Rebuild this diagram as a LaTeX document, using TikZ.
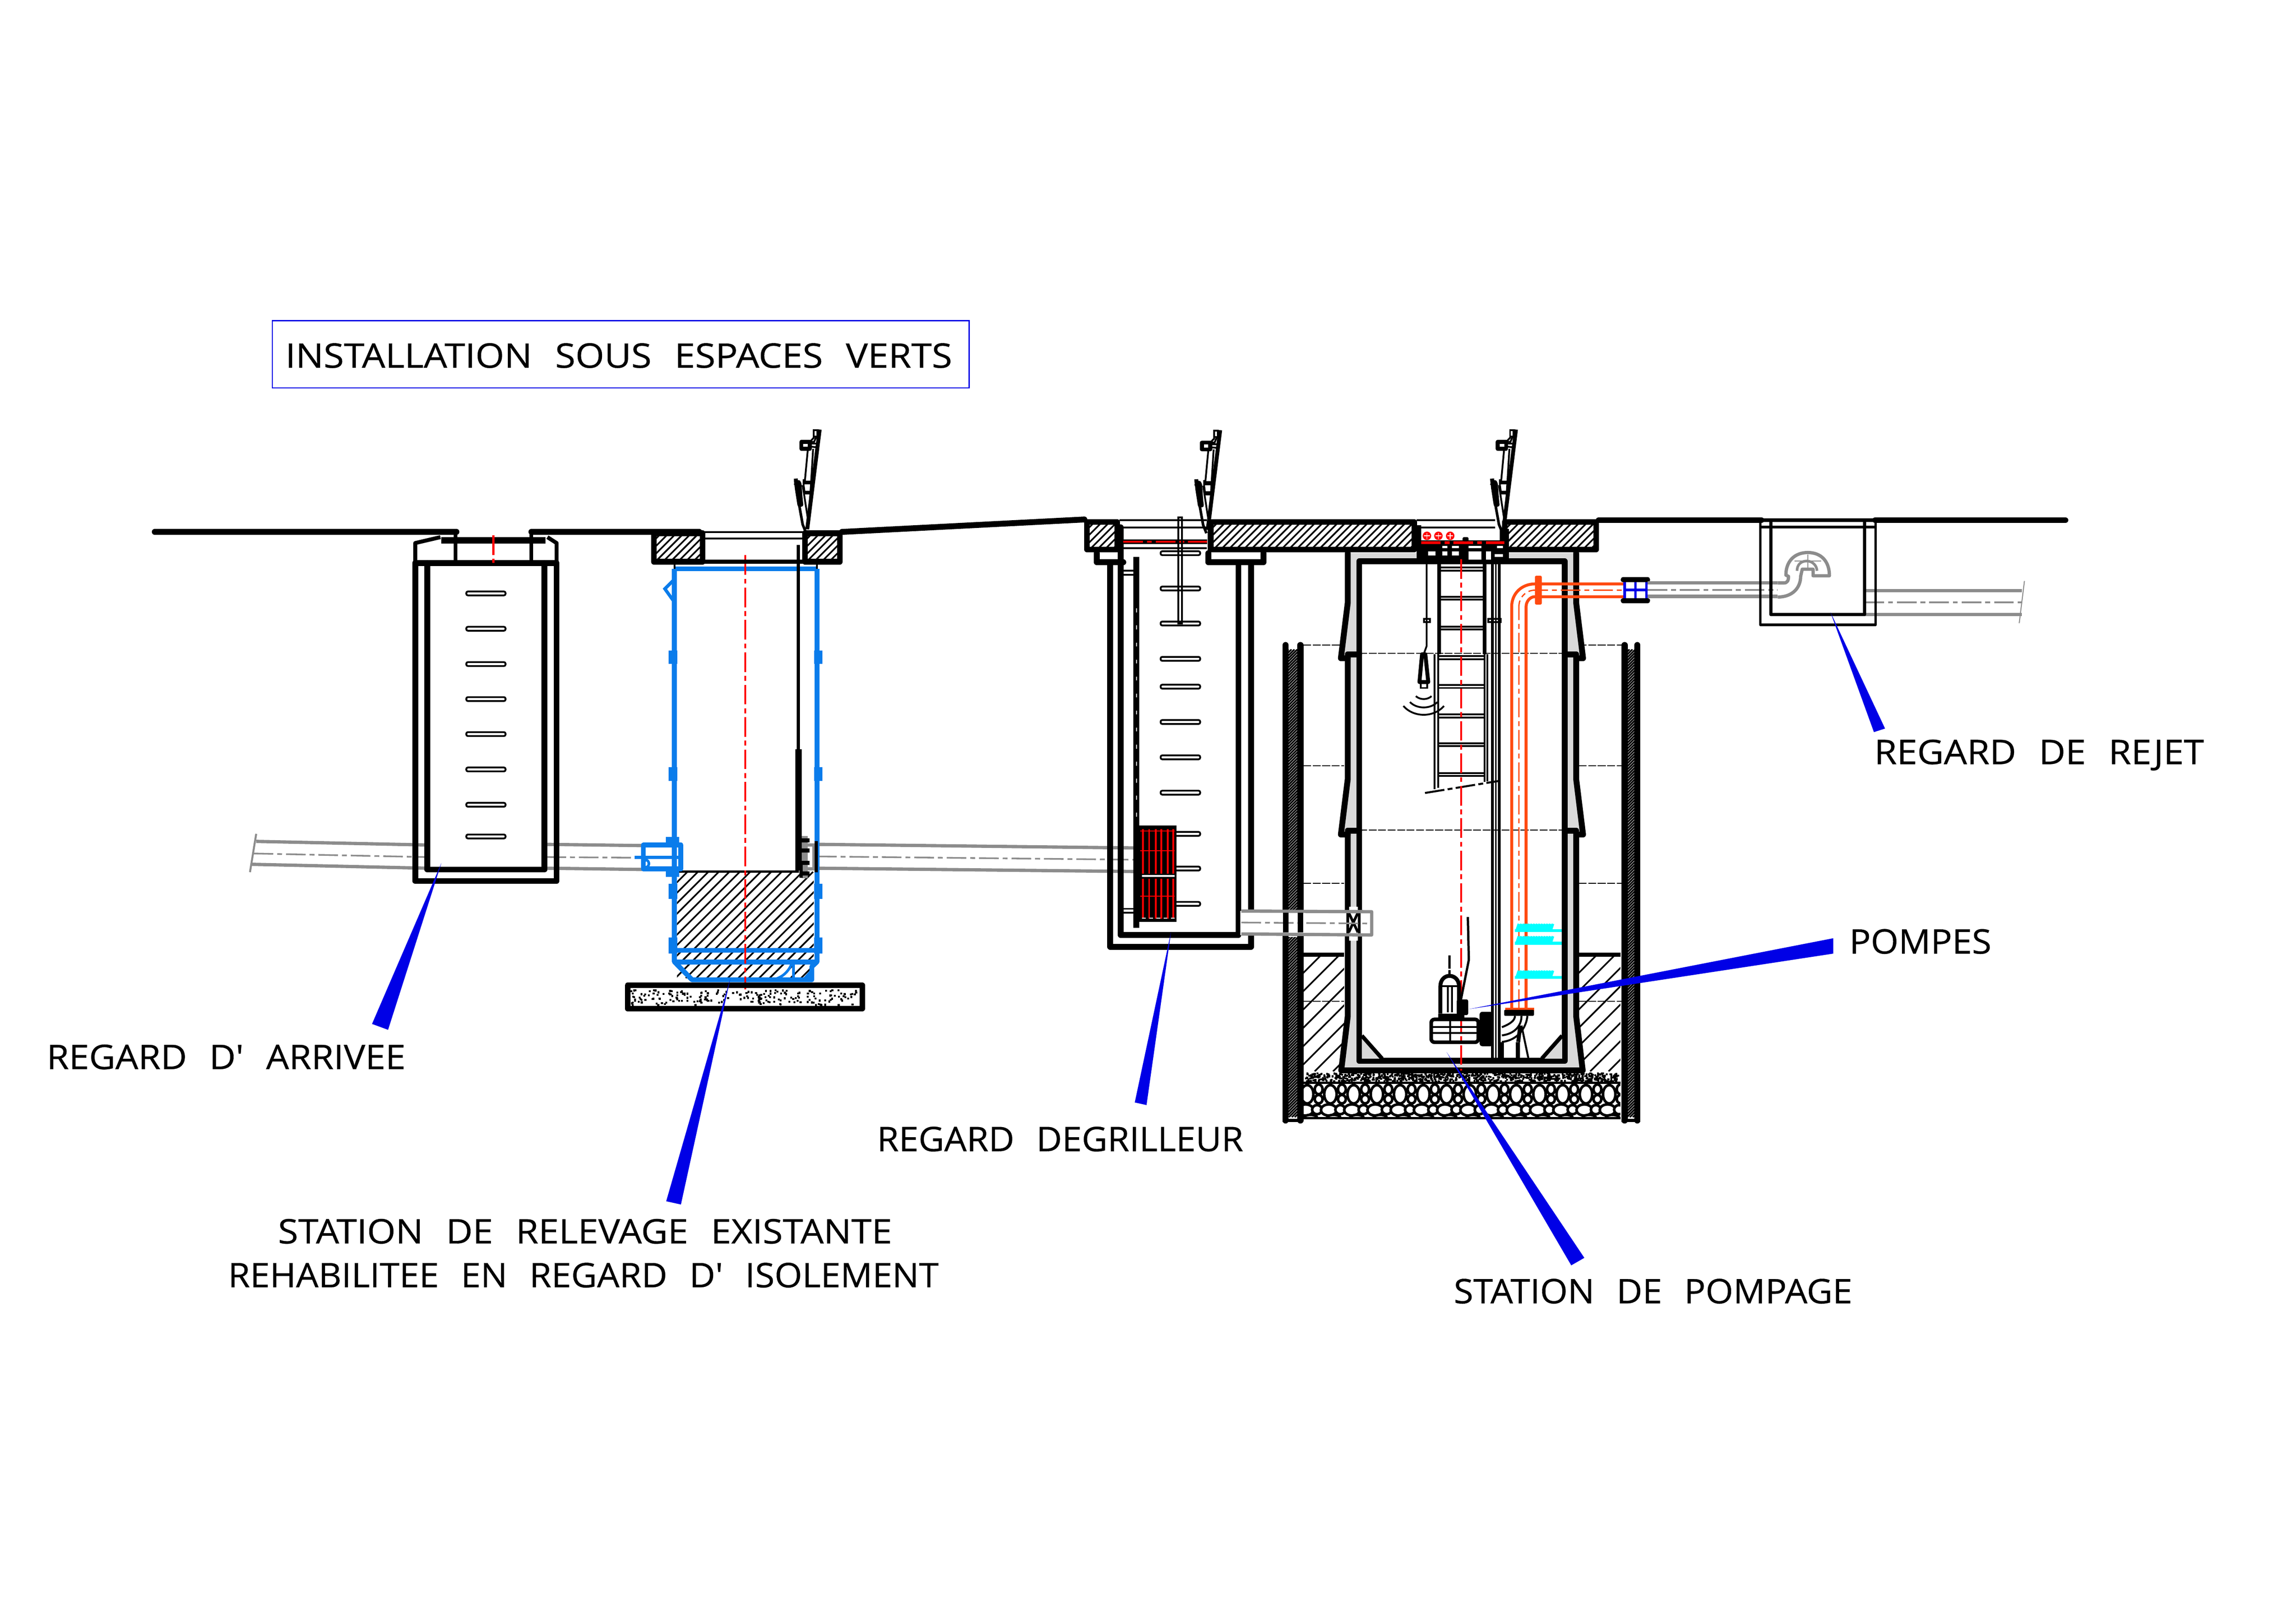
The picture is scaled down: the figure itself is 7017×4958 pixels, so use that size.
\documentclass[tikz,border=0pt]{standalone}
\usepackage{graphicx}
\usepackage{fontspec}
\setmainfont{Open Sans}
\newfontfamily\cadfont{Open Sans}[FakeBold=0.5]
\definecolor{tankblue}{RGB}{10,124,235}
\definecolor{leaderblue}{RGB}{0,0,230}
\definecolor{pipegray}{RGB}{140,140,140}
\definecolor{wallgray}{RGB}{217,217,217}
\definecolor{risingorange}{RGB}{255,74,16}
\definecolor{levelcyan}{RGB}{0,255,255}
\tikzset{
  heavy/.style={draw=black,line width=1.8mm,line join=round,line cap=round},
  medium/.style={draw=black,line width=1.2mm,line join=round},
  fine/.style={draw=black,line width=0.55mm},
  hatchline/.style={draw=black,line width=0.5mm},
  thindash/.style={draw=black,line width=0.35mm,dash pattern=on 2.4mm off 0.5mm},
  pipeline/.style={draw=pipegray,line width=1mm},
  axisdash/.style={dash pattern=on 6mm off 1.2mm on 1.5mm off 1.2mm},
  axisred/.style={draw=red,line width=0.6mm,axisdash},
  axisgray/.style={draw=pipegray,line width=0.5mm,axisdash},
  tankline/.style={draw=tankblue,line width=1.5mm,line join=round},
  riser/.style={draw=risingorange,line width=0.9mm},
  leader/.style={fill=leaderblue},
  cadlabel/.style={inner sep=0pt,outer sep=0pt},
}
\newcommand{\cadtext}[2]{\resizebox{#1cm}{0.75cm}{\cadfont\spaceskip=0.62em\relax #2}}
% hatching: x1,y1,x2,y2,spacing
\newcommand{\hatchbox}[5]{%
  \begin{scope}
    \clip (#1,#2) rectangle (#3,#4);
    \pgfmathsetmacro{\hatchh}{#4-#2}
    \pgfmathtruncatemacro{\hatchn}{(#3-#1+\hatchh)/#5+1}
    \foreach \k in {0,...,\hatchn}
      \draw[hatchline] ({#1-\hatchh+\k*#5},#4) -- ({#1+\k*#5},#2);
  \end{scope}}
\newcommand{\speckle}[5]{%
  \foreach \k in {1,...,#5}{
    \pgfmathsetmacro{\spx}{#1+rnd*(#3-#1)}
    \pgfmathsetmacro{\spy}{#2+rnd*(#4-#2)}
    \fill[black] (\spx,\spy) rectangle ++(6,6);
  }}
\newcommand{\slab}[4]{%
  \hatchbox{#1}{#2}{#3}{#4}{23}
  \draw[draw=black,line width=1.7mm,line join=round] (#1,#2) rectangle (#3,#4);}
% open cover, from its top end
\newcommand{\lid}[2]{%
  \begin{scope}[shift={(#1,#2)}]
    \draw[black,line width=1.2mm] (0,0) -- (-38,305);
    \draw[fine] (-18,2) rectangle (-7,21);
    \draw[fine] (-10,21) -- (-17,38) -- (-30,38) -- (-17,24);
    \draw[medium] (-56,38) rectangle (-30,59);
    \draw[fine] (-30,43) -- (-11,43) (-30,52) -- (-12,54);
    \draw[fine] (-36,59) -- (-45,155) -- (-49,155) -- (-49,170);
    \draw[fine] (-20,59) -- (-33,274);
    \draw[medium] (-49,162) -- (-24,162) (-46,193) -- (-25,193);
    \draw[fine] (-49,170) -- (-46,193);
    \draw[medium] (-73,150) .. controls (-72,168) and (-66,205) .. (-62,230) -- (-56,230) .. controls (-60,200) and (-60,170) .. (-62,165) .. controls (-63,157) and (-72,160) .. (-73,170);
    \draw[draw=black,line width=0.8mm] (-72,178) -- (-52,290) -- (-42,315);
    \draw[fine] (-52,170) -- (-35,280);
  \end{scope}}
\begin{document}
\begin{tikzpicture}[x=0.01cm,y=-0.01cm]
\useasboundingbox (0,0) rectangle (7017,4958);
\pgfmathsetseed{11}

% ground
\draw[heavy] (473,1626) -- (1395,1626);
\draw[heavy] (1624,1626) -- (2137,1626);
\draw[heavy] (2573,1626) -- (3314,1588);
\draw[heavy] (4886,1590) -- (5383,1590);
\draw[heavy] (5731,1590) -- (6312,1590);

% gravity pipes
\draw[pipeline] (783,2572) -- (1306,2583);
\draw[pipeline] (767,2642) -- (1306,2654);
\draw[axisgray] (775,2609) -- (1306,2620);
\draw[draw=pipegray,line width=0.6mm] (783,2549) -- (764,2666);
\draw[pipeline] (1663,2581) -- (1977,2585);
\draw[pipeline] (1670,2654) -- (1977,2658);
\draw[axisgray] (1670,2620) -- (1960,2622);
\draw[pipeline] (2497,2581) -- (3466,2592);
\draw[pipeline] (2497,2654) -- (3466,2664);
\draw[axisgray] (2497,2618) -- (3466,2628);

% regard d'arrivee
\begin{scope}
  \draw[heavy] (1269,1721) rectangle (1701,2693);
  \draw[heavy] (1306,1721) -- (1306,2658) -- (1664,2658) -- (1664,1721);
  \draw[medium] (1269,1721) -- (1269,1660) -- (1346,1642);
  \draw[medium] (1701,1721) -- (1701,1660) -- (1673,1642);
  \draw[draw=black,line width=2mm] (1349,1652) -- (1667,1652);
  \draw[medium] (1392,1624) -- (1392,1721) (1624,1624) -- (1624,1721);
  \draw[axisred] (1508,1636) -- (1508,1721);
  \foreach \y in {1814,1922,2030,2137,2244,2352,2460,2557}
    \draw[fine,rounded corners=0.05cm] (1425,\y-6) rectangle (1545,\y+6);
\end{scope}

% regard d'isolement
\begin{scope}
  \hatchbox{2069}{2665}{2487}{2990}{32}
  \draw[draw=black,line width=0.7mm] (2069,2665) -- (2442,2665);
  \draw[tankline] (2061,1739) -- (2497,1739);
  \draw[tankline] (2061,1739) -- (2061,2940) -- (2115,2995) -- (2481,2995) -- (2481,2955) -- (2497,2940) -- (2497,1739);
  \draw[tankline] (2061,2905) -- (2497,2905) (2061,2941) -- (2497,2941);
  \draw[draw=tankblue,line width=0.8mm] (2360,2995) .. controls (2390,2990) and (2410,2970) .. (2420,2945);
  \draw[draw=tankblue,line width=0.8mm] (2425,2945) -- (2425,2995);
  \fill[tankblue] (2481,2960) -- (2481,2995) -- (2450,2995) -- cycle;
  \foreach \y/\z in {1988/2030,2345/2387,2701/2748,2866/2915}
    \draw[draw=tankblue,line width=2.6mm] (2057,\y) -- (2057,\z) (2501,\y) -- (2501,\z);
  \draw[draw=tankblue,line width=1mm] (2057,1775) -- (2032,1800) -- (2057,1835);
  % inlet sleeve
  \draw[tankline] (1966,2583) rectangle (2081,2656);
  \draw[draw=tankblue,line width=1mm] (1940,2621) -- (2084,2621);
  \draw[draw=tankblue,line width=0.8mm] (1972,2630) .. controls (1962,2640) and (1968,2656) .. (1978,2650) .. controls (1990,2640) and (1978,2625) .. (1972,2630);
  \draw[draw=tankblue,line width=2.6mm] (2035,2572) -- (2075,2572) (2035,2668) -- (2075,2668);
  \draw[axisred] (2278,1697) -- (2278,3024);
  % base slab
  \speckle{1927}{3024}{2620}{3070}{210}
  \draw[draw=black,line width=1.7mm,line join=round] (1918,3012) rectangle (2635,3083);
  % upper slabs
  \slab{1998}{1630}{2147}{1717}
  \slab{2460}{1630}{2567}{1717}
  \draw[fine] (2147,1626) -- (2454,1626) (2147,1646) -- (2454,1646);
  \draw[medium] (2147,1717) -- (2454,1717);
  \draw[fine] (2061,1717) -- (2061,1739) (2497,1717) -- (2497,1739);
  % guide rail and its bracket
  \draw[draw=black,line width=0.9mm] (2440,1666) -- (2440,2290);
  \draw[draw=black,line width=2mm] (2440,2290) -- (2440,2661);
  \fill[pipegray] (2451,2556) rectangle (2468,2685);
  \draw[draw=pipegray,line width=1mm] (2462,2583) -- (2488,2583) -- (2488,2656) -- (2462,2656);
  \draw[draw=black,line width=1mm] (2448,2640) -- (2448,2683);
  \foreach \y in {2569,2600,2638,2670}
    \draw[draw=black,line width=1.3mm] (2451,\y) -- (2474,\y);
  \draw[draw=black,line width=1mm] (2494,2571) -- (2494,2667);
\end{scope}

% regard degrilleur
\begin{scope}
  \slab{3322}{1596}{3414}{1680}
  \slab{3700}{1596}{4322}{1680}
  \draw[heavy] (3352,1691) -- (3352,1719) -- (3433,1719);
  \draw[heavy] (3693,1691) -- (3693,1719) -- (3861,1719) -- (3861,1691);
  \draw[heavy] (3393,1719) -- (3393,2894) -- (3823,2894) -- (3823,1719);
  \draw[heavy] (3425,1612) -- (3425,2858) -- (3785,2858) -- (3785,1719);
  \draw[fine] (3422,1590) -- (3688,1590) (3422,1612) -- (3688,1612) (3425,1676) -- (3688,1676);
  \draw[draw=black,line width=1.3mm] (3433,1656) -- (3690,1656);
  \draw[axisred,line width=0.7mm] (3433,1656) -- (3690,1656);
  \foreach \y in {1691,1799,1906,2014,2099,2207,2315,2423,2549,2655,2763}
    \draw[fine,rounded corners=0.05cm] (3547,\y-6) rectangle (3668,\y+6);
  \draw[fine] (3601,1582) rectangle (3612,1906);
  \draw[fine] (3428,1745) -- (3468,1745) (3428,1757) -- (3468,1757);
  \draw[fine] (3428,2778) -- (3468,2778) (3428,2790) -- (3468,2790);
  \draw[draw=black,line width=1.8mm] (3473,1703) -- (3473,2836);
  \draw[draw=white,line width=0.3mm,dash pattern=on 1.2mm off 4mm] (3473,1860) -- (3473,2500);
  % screen
  \fill[black] (3476,2523) rectangle (3596,2818);
  \foreach \x in {3493,3512,3532,3549,3569,3586}
    \draw[draw=red,line width=0.5mm] (\x,2535) -- (\x,2670) (\x,2686) -- (\x,2808);
  \draw[draw=white,line width=0.5mm] (3490,2678) -- (3590,2678);
  \draw[draw=white,line width=0.3mm,dash pattern=on 1.2mm off 1mm] (3490,2807) -- (3590,2807);
  \draw[draw=red,line width=0.3mm] (3485,2540) -- (3590,2540) (3485,2600) -- (3590,2600) (3485,2740) -- (3590,2740);
\end{scope}

% station de pompage: fill, trench walls and their hatching
\begin{scope}
  \hatchbox{3983}{2918}{4108}{3275}{56}
  \hatchbox{4825}{2918}{4952}{3275}{56}
  \draw[medium] (3983,2918) -- (4108,2918) (4825,2918) -- (4952,2918);
  \speckle{3983}{3278}{4945}{3303}{850}
  \begin{scope}
    \clip (3983,3310) rectangle (4952,3418);
    \foreach \i in {0,...,13}{
      \draw[draw=black,fill=white,line width=0.8mm] (3995+\i*71,3345) ellipse (19 and 28);
      \draw[draw=black,fill=white,line width=0.8mm] (4030+\i*71,3330) ellipse (12 and 15);
      \draw[draw=black,fill=white,line width=0.8mm] (4030+\i*71,3360) ellipse (12 and 13);
      \draw[draw=black,fill=white,line width=0.8mm] (3990+\i*71,3393) ellipse (24 and 17);
      \draw[draw=black,fill=white,line width=0.8mm] (4025+\i*71,3392) ellipse (15 and 14);
      \draw[draw=black,fill=white,line width=0.8mm] (4005+\i*71,3416) ellipse (20 and 8);
    }
  \end{scope}
  \draw[draw=black,line width=0.7mm] (3983,3310) -- (4952,3310);
  \draw[draw=black,line width=0.7mm] (3983,3418) -- (4952,3418);
  \foreach \xa/\xb in {3938/3965,4971/4998}{
    \hatchbox{\xa}{1985}{\xb}{3415}{9}
  }
  \fill[white] (3938,2784) rectangle (3965,2864);
  \foreach \xa in {3929,3974,4965,5004}
    \draw[draw=black,line width=1.9mm,line cap=round] (\xa,1972) -- (\xa,3425);
  \draw[draw=black,line width=1mm] (3920,3425) -- (3983,3425) (4956,3425) -- (5013,3425);
  \foreach \y in {1972,2341,2700,3061}{
    \draw[thindash] (3983,\y) -- (4108,\y);
    \draw[thindash] (4825,\y) -- (4956,\y);
  }
\end{scope}

% station de pompage: shaft, left side then its mirror
\foreach \sx/\sc in {0/1,8936/-1}{
  \begin{scope}[shift={(\sx,0)},xscale=\sc]
    \fill[wallgray] (4119,1691) -- (4119,1842) -- (4098,2012) -- (4119,2012) -- (4119,2381) -- (4098,2551) -- (4119,2551) -- (4119,3106) -- (4099,3272) -- (4468,3272) -- (4468,3243) -- (4154,3243) -- (4154,1707) -- (4330,1707) -- (4330,1691) -- cycle;
    \draw[heavy] (4119,1691) -- (4119,1842) -- (4098,2012) -- (4119,2012);
    \draw[heavy] (4119,2012) -- (4119,2381) -- (4098,2551) -- (4119,2551);
    \draw[heavy] (4119,2551) -- (4119,3106) -- (4099,3272) -- (4468,3272);
    \draw[heavy] (4119,2000) -- (4154,2000) (4119,2539) -- (4154,2539);
    \draw[draw=black,line width=1.8mm,line join=round] (4329,1716) -- (4154,1716) -- (4154,3243) -- (4468,3243);
    \fill[wallgray] (4162,3166) -- (4224,3236) -- (4162,3236) -- cycle;
    \draw[medium] (4162,3166) -- (4224,3236);
  \end{scope}
}
\draw[thindash] (4154,1997) -- (4782,1997);
\draw[thindash] (4154,2537) -- (4782,2537);

% pipe through the shaft wall
\fill[white] (3790,2785) rectangle (4190,2858);
\fill[white] (4120,2772) rectangle (4150,2876);
\draw[draw=black,line width=0.8mm] (4119,2772) -- (4119,2876) (4154,2772) -- (4154,2876);
\draw[draw=black,line width=0.8mm] (4122,2790) -- (4150,2850) (4150,2790) -- (4122,2850);
\draw[draw=pipegray,line width=1mm,line join=round] (3794,2785) -- (4192,2787) -- (4192,2858) -- (3794,2855);
\draw[axisgray] (3794,2820) -- (4190,2823);
\draw[draw=black,line width=1.7mm] (3929,2790) -- (3929,2850) (3974,2790) -- (3974,2850);

% cover frame between the two slabs
\slab{4599}{1596}{4878}{1680}
\draw[fine] (4329,1590) -- (4570,1590) (4329,1612) -- (4570,1612);
\fill[black] (4329,1652) rectangle (4611,1725);
\fill[black] (4324,1606) rectangle (4343,1652);
\fill[black] (4584,1617) rectangle (4611,1652);
\foreach \xa/\ya/\xb/\yb in {4365/1685/4387/1698,4408/1685/4423/1698,4437/1685/4459/1698,4408/1669/4423/1675,4437/1669/4459/1675,4488/1669/4528/1675,4488/1685/4528/1711,4541/1685/4557/1711,4575/1669/4593/1675,4568/1694/4593/1703}
  \fill[white] (\xa,\ya) rectangle (\xb,\yb);
\draw[axisred,line width=0.8mm] (4343,1659) -- (4597,1659);
\foreach \x in {4361,4396,4432}{
  \fill[red] (\x,1638) circle (13);
  \draw[draw=white,line width=0.25mm] (\x-9,1638) -- (\x+9,1638) (\x,1629) -- (\x,1647);
}
\fill[black,rounded corners=0.04cm] (4470,1642) rectangle (4488,1655);

% ladder and level probe
\foreach \x in {4398,4537}
  \draw[draw=black,line width=1.2mm] (\x,1721) -- (\x,2000);
\draw[fine] (4384,2000) -- (4384,2412) (4396,2000) -- (4396,2408) (4537,2000) -- (4537,2390) (4545,2000) -- (4545,2388);
\foreach \y in {1735,1824,1915,2006,2094,2184,2272,2363}
  \draw[fine] (4398,\y) -- (4537,\y) (4398,\y+9) -- (4537,\y+9);
\draw[draw=black,line width=0.6mm,dash pattern=on 6mm off 1mm on 1.5mm off 1mm] (4355,2424) -- (4582,2387);
\draw[fine] (4360,1725) -- (4360,1975) -- (4351,2000);
\draw[fine] (4352,1892) rectangle (4370,1902);
\draw[fine] (4548,1892) rectangle (4586,1902);
\draw[medium] (4346,2000) -- (4356,2000) -- (4365,2085) -- (4338,2085) -- cycle;
\draw[fine] (4342,2085) rectangle (4362,2103);
\draw[fine] (4327,2128) .. controls (4340,2140) and (4362,2140) .. (4375,2128);
\draw[fine] (4309,2146) .. controls (4330,2168) and (4372,2168) .. (4393,2146);
\draw[fine] (4289,2158) .. controls (4320,2194) and (4382,2194) .. (4413,2158);
% guide tube
\draw[draw=black,line width=0.8mm] (4561,1721) -- (4561,3240) (4582,1721) -- (4582,3240);
\draw[draw=black,line width=0.4mm] (4571,1721) -- (4571,3240);
\draw[axisred] (4466,1709) -- (4466,3272);

% rising main
\draw[riser] (4620,3084) -- (4620,1854) .. controls (4620,1815) and (4650,1785) .. (4691,1785) -- (4961,1785);
\draw[riser] (4664,3084) -- (4664,1854) .. controls (4664,1840) and (4675,1824) .. (4691,1824) -- (4961,1824);
\draw[draw=risingorange,line width=0.4mm,axisdash] (4642,3084) -- (4642,1854) .. controls (4642,1825) and (4665,1804) .. (4691,1804) -- (4961,1804);
\fill[risingorange,rounded corners=0.04cm] (4691,1760) rectangle (4712,1848);
\fill[risingorange] (4600,3080) rectangle (4688,3090);
% level marks
\foreach \y in {2824,2862,2967}{
  \draw[draw=levelcyan,line width=0.9mm] (4630,\y+21) -- (4773,\y+21);
  \foreach \x in {4636,4644,...,4742}
    \draw[draw=levelcyan,line width=0.8mm] (\x,\y+18) -- (\x+6,\y);
}

% pump
\draw[draw=black,line width=0.7mm] (4486,2803) -- (4489,2934) -- (4465,3055);
\draw[draw=black,line width=0.7mm,dash pattern=on 4mm off 0.5mm] (4430,2921) -- (4430,2981);
\draw[draw=black,line width=1.2mm,line join=round] (4402,3098) -- (4402,3015) .. controls (4402,2995) and (4415,2983) .. (4430,2983) .. controls (4445,2983) and (4459,2995) .. (4459,3015) -- (4459,3060);
\draw[fine] (4402,3015) -- (4459,3015) (4425,3015) -- (4425,3095) (4438,3015) -- (4438,3095);
\fill[black,rounded corners=0.05cm] (4452,3055) rectangle (4487,3103);
\fill[black] (4395,3098) rectangle (4475,3115);
\draw[draw=black,line width=1.1mm,rounded corners=0.1cm] (4374,3116) rectangle (4518,3186);
\draw[fine] (4378,3140) -- (4518,3140) (4378,3157) -- (4518,3157) (4432,3116) -- (4432,3186);
\fill[black,rounded corners=0.08cm] (4522,3093) rectangle (4563,3198);
\draw[draw=black,line width=0.6mm] (4590,3140) .. controls (4615,3130) and (4630,3120) .. (4630,3105);
\draw[draw=black,line width=0.6mm] (4590,3165) .. controls (4630,3160) and (4650,3135) .. (4650,3105);
\draw[draw=black,line width=0.6mm] (4590,3185) .. controls (4640,3180) and (4665,3140) .. (4668,3105);
\fill[black,rounded corners=0.03cm] (4597,3087) rectangle (4688,3105);
\draw[medium] (4590,3185) -- (4590,3240) (4639,3185) -- (4639,3240);
\draw[draw=black,line width=0.6mm] (4650,3135) -- (4672,3240);
\draw[medium] (4646,3135) -- (4640,3185);

% blue valve box
\draw[draw=leaderblue,line width=0.8mm] (4965,1772) rectangle (5032,1835);
\draw[draw=leaderblue,line width=0.8mm] (4998,1772) -- (4998,1835) (4965,1803) -- (5032,1803);
\draw[draw=black,line width=1.6mm,line cap=round] (4961,1772) -- (5035,1772) (4961,1836) -- (5035,1836);

% regard de rejet
\draw[pipeline] (5035,1782) -- (5433,1782) (5035,1823) -- (5433,1823);
\draw[axisgray] (5035,1803) -- (5433,1803);
\draw[pipeline] (5698,1805) -- (6179,1805) (5698,1879) -- (6179,1879);
\draw[axisgray] (5698,1841) -- (6179,1841);
\draw[draw=pipegray,line width=0.3mm] (6187,1776) -- (6171,1905);
\draw[draw=black,line width=0.8mm,line join=round] (5380,1590) -- (5380,1910) -- (5732,1910) -- (5732,1590);
\draw[draw=black,line width=1mm,line join=round] (5412,1590) -- (5412,1879) -- (5698,1879) -- (5698,1590);
\draw[draw=black,line width=0.8mm] (5380,1611) -- (5732,1611);
\draw[draw=black,line width=1.2mm] (5380,1590) -- (5732,1590);
\draw[draw=pipegray,line width=1mm,line join=round] (5433,1782) -- (5452,1782) .. controls (5462,1782) and (5466,1775) .. (5466,1762) -- (5458,1758) .. controls (5458,1715) and (5485,1689) .. (5525,1689) .. controls (5565,1689) and (5591,1715) .. (5591,1760) -- (5541,1760) -- (5541,1740) -- (5508,1740) -- (5503,1762) .. controls (5503,1795) and (5480,1825) .. (5433,1825);
\draw[draw=pipegray,line width=0.8mm] (5492,1745) .. controls (5492,1725) and (5505,1715) .. (5522,1715) .. controls (5540,1715) and (5553,1730) .. (5553,1745);
\draw[draw=pipegray,line width=0.3mm] (5525,1695) -- (5525,1738) (5484,1715) -- (5566,1715);

% open covers
\lid{2505}{1313}
\lid{3729}{1315}
\lid{4633}{1313}

% leaders
\coordinate (tiparrivee) at (1349,2638);
\coordinate (tipisolement) at (2232,2991);
\coordinate (tipdegrilleur) at (3579,2848);
\coordinate (tippompes) at (4488,3085);
\coordinate (tippompage) at (4421,3216);
\coordinate (tiprejet) at (5594,1871);
\fill[leader] (tiparrivee) -- (1186,3148) -- (1137,3130) -- cycle;
\fill[leader] (tipisolement) -- (2081,3682) -- (2036,3672) -- cycle;
\fill[leader] (tipdegrilleur) -- (3504,3378) -- (3468,3370) -- cycle;
\fill[leader] (tippompes) -- (5603,2868) -- (5603,2915) -- cycle;
\fill[leader] (tippompage) -- (4842,3845) -- (4802,3868) -- cycle;
\fill[leader] (tiprejet) -- (5761,2227) -- (5727,2238) -- cycle;

% labels
\node[cadlabel] (lblinstall) at (1891,1087) {\cadtext{20.36}{INSTALLATION SOUS ESPACES VERTS}};
\draw[draw=leaderblue,line width=0.35mm] (832,980) rectangle (2962,1186);
\node[cadlabel] (lblarrivee) at (691,3231) {\cadtext{10.96}{REGARD D' ARRIVEE}};
\node[cadlabel] (lblexistante) at (1788,3764) {\cadtext{18.75}{STATION DE RELEVAGE EXISTANTE}};
\node[cadlabel] (lblisolement) at (1783,3898) {\cadtext{21.70}{REHABILITEE EN REGARD D' ISOLEMENT}};
\node[cadlabel] (lbldegrilleur) at (3240,3482) {\cadtext{11.19}{REGARD DEGRILLEUR}};
\node[cadlabel] (lblpompage) at (5052,3947) {\cadtext{12.17}{STATION DE POMPAGE}};
\node[cadlabel] (lblpompes) at (5869,2878) {\cadtext{4.34}{POMPES}};
\node[cadlabel] (lblrejet) at (6232,2308) {\cadtext{10.07}{REGARD DE REJET}};
\end{tikzpicture}
\end{document}
